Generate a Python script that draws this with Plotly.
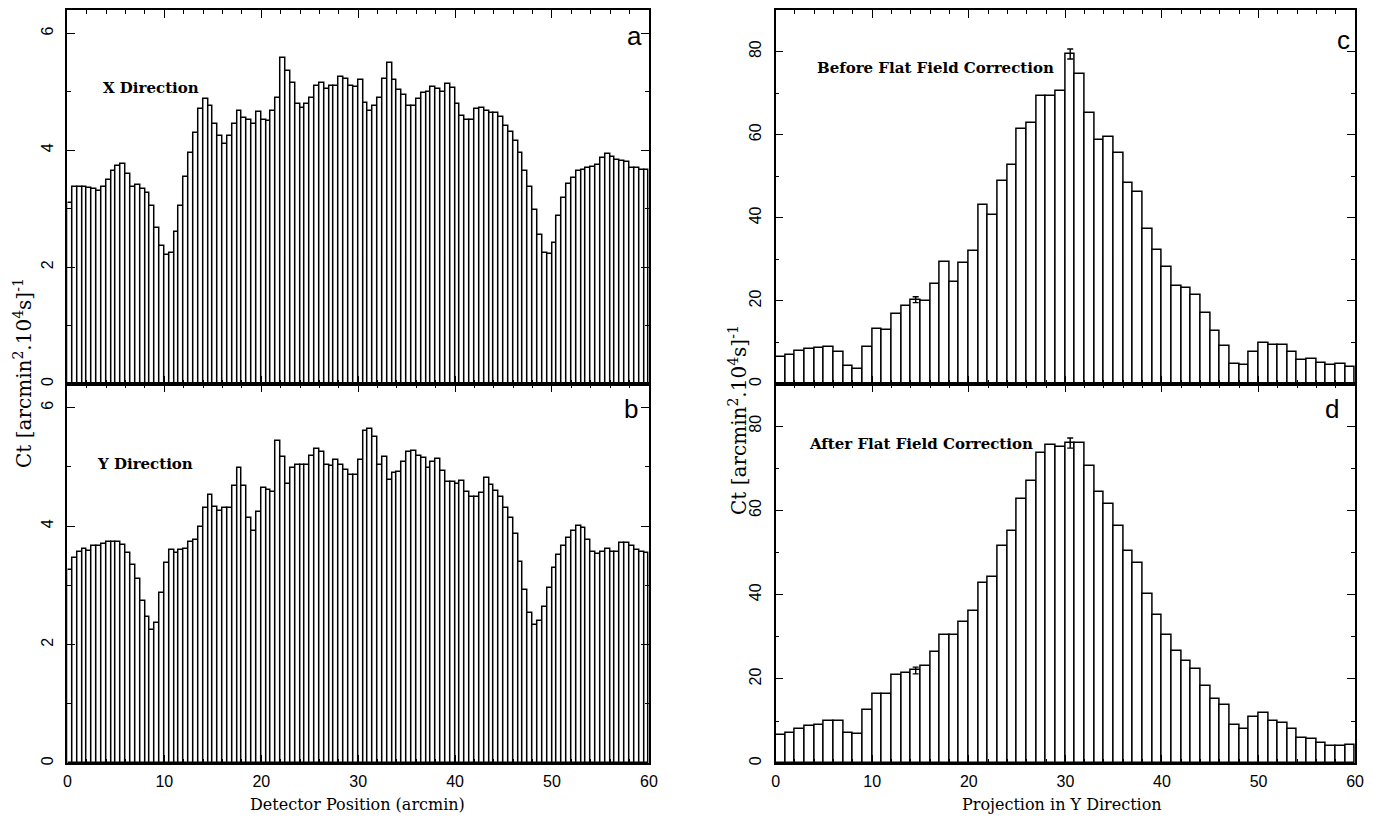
import numpy as np
import plotly.graph_objects as go

# ---------------- data ----------------
# Panel a: X direction, 0.5 arcmin bins from 0 to 60
x_direction = [3.10, 3.38, 3.38, 3.38, 3.36, 3.33, 3.30, 3.38, 3.50, 3.65,
               3.73, 3.77, 3.60, 3.38, 3.40, 3.33, 3.27, 3.05, 2.67, 2.37,
               2.20, 2.25, 2.60, 3.05, 3.55, 3.95, 4.30, 4.70, 4.87, 4.75,
               4.45, 4.25, 4.10, 4.25, 4.45, 4.68, 4.55, 4.52, 4.45, 4.65,
               4.52, 4.50, 4.68, 4.90, 5.58, 5.35, 5.15, 4.80, 4.72, 4.80,
               4.90, 5.10, 5.15, 5.05, 5.10, 5.10, 5.25, 5.22,
               5.10, 5.08, 5.20, 4.81, 4.67, 4.75, 4.90, 5.22, 5.50, 5.20,
               5.03, 4.95, 4.76, 4.76, 4.88, 4.98, 5.00, 5.08, 5.05, 5.00,
               5.13, 5.07, 4.80, 4.58, 4.51, 4.51, 4.70, 4.72, 4.67, 4.64,
               4.63, 4.57, 4.41, 4.31, 4.16, 3.96, 3.65, 3.37, 2.98, 2.55,
               2.25, 2.22, 2.42, 2.87, 3.18, 3.43, 3.52, 3.64, 3.66, 3.69,
               3.72, 3.75, 3.86, 3.93, 3.89, 3.83, 3.81, 3.80, 3.69, 3.69,
               3.66, 3.66]

# Panel b: Y direction
y_direction = [3.26, 3.46, 3.56, 3.62, 3.58, 3.66, 3.67, 3.70, 3.73, 3.74,
               3.74, 3.68, 3.54, 3.34, 3.11, 2.74, 2.46, 2.25, 2.36, 2.87,
               3.37, 3.60, 3.54, 3.60, 3.62, 3.73, 3.77, 3.98, 4.30, 4.52,
               4.33, 4.26, 4.30, 4.31, 4.67, 4.99, 4.67, 4.13, 3.92, 4.24,
               4.64, 4.61, 4.58, 5.44, 5.17, 4.72, 4.99, 5.04, 5.04, 5.03,
               5.19, 5.31, 5.25, 5.04, 5.02, 5.12, 5.04, 4.95,
               4.86, 4.86, 5.12, 5.60, 5.64, 5.51, 5.04, 5.16, 4.78, 4.89,
               4.91, 5.09, 5.25, 5.27, 5.19, 5.15, 4.99, 5.08, 5.13, 4.93,
               4.74, 4.74, 4.71, 4.76, 4.58, 4.50, 4.50, 4.56, 4.81, 4.69,
               4.60, 4.50, 4.30, 4.13, 3.86, 3.40, 2.92, 2.53, 2.33, 2.40,
               2.63, 2.96, 3.29, 3.52, 3.66, 3.80, 3.92, 4.00, 3.97, 3.77,
               3.56, 3.53, 3.57, 3.62, 3.57, 3.57, 3.71, 3.71, 3.66, 3.60,
               3.57, 3.54]

# Panel c: before flat field correction, unit bins 0..60
before_ff = [6.4, 6.9, 8.0, 8.5, 8.6, 8.9, 7.7, 4.4, 3.7, 8.9,
             13.3, 13.0, 16.9, 18.7, 20.3, 19.9, 24.1, 29.3, 24.5, 29.1,
             32.1, 43.2, 40.7, 48.8, 52.6, 61.4, 62.8, 69.4, 69.2, 70.4,
             79.4, 74.5, 65.2, 58.8, 59.5, 55.5, 48.3, 46.1, 37.3, 32.3,
             28.2, 23.7, 23.0, 21.4, 17.0, 12.8, 9.2, 4.8, 4.6, 7.7,
             10.0, 9.3, 9.3, 7.7, 5.8, 6.0, 5.0, 4.6, 4.8, 4.0]

# Panel d: after flat field correction
after_ff = [6.7, 7.1, 8.2, 8.7, 9.1, 9.9, 9.9, 7.1, 6.9, 12.5,
            16.5, 16.5, 20.8, 21.4, 22.0, 23.0, 26.4, 30.3, 30.5, 33.5,
            36.0, 42.8, 44.2, 51.6, 55.0, 62.6, 66.9, 73.5, 75.6, 75.1,
            76.0, 76.0, 70.6, 64.4, 61.6, 56.4, 50.3, 47.4, 40.2, 35.1,
            30.5, 26.5, 24.3, 22.3, 18.4, 15.2, 13.7, 9.1, 8.1, 10.9,
            11.8, 10.0, 9.4, 8.1, 6.0, 5.7, 4.8, 4.1, 4.1, 4.3]

# error bars (bin index, half-length)
before_err_bins = [14, 30]
before_err_size = [0.7, 1.2]
after_err_bins = [14, 30]
after_err_size = [0.8, 1.2]

det_bin = 0.5
proj_bin = 1.0
det_centers = np.arange(len(x_direction)) * det_bin + det_bin / 2
proj_centers = np.arange(len(before_ff)) * proj_bin + proj_bin / 2

panel_letters = ["a", "b", "c", "d"]
panel_titles = ["X Direction", "Y Direction",
                "Before Flat Field Correction", "After Flat Field Correction"]
ytitle = "Ct [arcmin<sup>2</sup>.10<sup>4</sup>s]<sup>-1</sup>"
xtitle_left = "Detector Position (arcmin)"
xtitle_right = "Projection in Y Direction"

# ---------------- figure ----------------
SW, SH = 1381, 825        # screen size
OFF = 8                   # page body margin
W, H = SW - 2 * OFF, SH - 2 * OFF


def fx(x):
    return (x - OFF) / W


def fy(y):
    return 1 - (y - OFF) / H


fig = go.Figure()

bar_style = dict(marker=dict(color="white", line=dict(color="black", width=1.5)),
                 showlegend=False, hoverinfo="x+y")

fig.add_trace(go.Bar(x=det_centers, y=x_direction, width=det_bin,
                     xaxis="x", yaxis="y", **bar_style))
fig.add_trace(go.Bar(x=det_centers, y=y_direction, width=det_bin,
                     xaxis="x2", yaxis="y2", **bar_style))
fig.add_trace(go.Bar(x=proj_centers, y=before_ff, width=proj_bin,
                     xaxis="x3", yaxis="y3", **bar_style))
fig.add_trace(go.Bar(x=proj_centers, y=after_ff, width=proj_bin,
                     xaxis="x4", yaxis="y4", **bar_style))

# error bars
for vals, bins, sizes, xa, ya in [(before_ff, before_err_bins, before_err_size, "x3", "y3"),
                                  (after_ff, after_err_bins, after_err_size, "x4", "y4")]:
    fig.add_trace(go.Scatter(
        x=[proj_centers[b] for b in bins], y=[vals[b] for b in bins],
        mode="markers", marker=dict(size=1, color="black"),
        error_y=dict(type="data", array=sizes, color="black", thickness=1.4, width=3),
        xaxis=xa, yaxis=ya, showlegend=False, hoverinfo="skip"))

L = [fx(64), fx(651)]
R = [fx(779), fx(1364)]
TOP = [fy(385), fy(10)]
BOT = [fy(765), fy(385)]

tickfont = dict(family="Liberation Sans, Arial, sans-serif", size=16, color="black")


def xax(domain, anchor, minor_dtick, show_labels):
    return dict(domain=domain, anchor=anchor, range=[0, 60], dtick=10, tick0=0,
                showline=True, linecolor="black", linewidth=1.6, mirror="allticks",
                ticks="inside", ticklen=8, tickwidth=1.3, tickcolor="black",
                minor=dict(ticks="inside", ticklen=4, tickwidth=1.1, tickcolor="black",
                           dtick=minor_dtick, tick0=0),
                showgrid=False, zeroline=False, showticklabels=show_labels,
                tickfont=tickfont, ticklabelstandoff=3)


def yax(domain, anchor, rng, dtick, minor_dtick):
    return dict(domain=domain, anchor=anchor, range=rng, dtick=dtick, tick0=0,
                showline=True, linecolor="black", linewidth=1.6, mirror="allticks",
                ticks="inside", ticklen=8, tickwidth=1.3, tickcolor="black",
                minor=dict(ticks="inside", ticklen=4, tickwidth=1.1, tickcolor="black",
                           dtick=minor_dtick, tick0=0),
                showgrid=False, zeroline=False, tickangle=-90,
                tickfont=tickfont, ticklabelstandoff=6)


fig.update_layout(
    width=W, height=H, autosize=False,
    margin=dict(l=0, r=0, t=0, b=0),
    paper_bgcolor="white", plot_bgcolor="white",
    bargap=0, barmode="overlay",
    xaxis=xax(L, "y", 2, False),
    yaxis=yax(TOP, "x", [0, 6.4], 2, 1),
    xaxis2=xax(L, "y2", 2, True),
    yaxis2=yax(BOT, "x2", [0, 6.4], 2, 1),
    xaxis3=xax(R, "y3", 2, False),
    yaxis3=yax(TOP, "x3", [0, 90], 20, 10),
    xaxis4=xax(R, "y4", 2, True),
    yaxis4=yax(BOT, "x4", [0, 90], 20, 10),
)

serif = "DejaVu Serif, Liberation Serif, serif"
ann = []


def add_text(text, x, y, font, angle=0):
    ann.append(dict(text=text, x=fx(x), y=fy(y), xref="paper", yref="paper",
                    xanchor="center", yanchor="middle", textangle=angle,
                    showarrow=False, font=font))


letter_pos = [(636, 36), (633, 410), (1352, 40), (1341, 410)]
for t, (x, y) in zip(panel_letters, letter_pos):
    add_text(t, x, y, dict(family="Liberation Sans, Arial, sans-serif", size=26, color="black"))
title_pos = [(148, 88), (142, 465), (940, 68), (926, 445)]
for t, (x, y) in zip(panel_titles, title_pos):
    add_text("<b>" + t + "</b>", x, y, dict(family=serif, size=15, color="black"))
for (x, y) in [(19, 374), (741, 421)]:
    add_text(ytitle, x, y, dict(family=serif, size=20, color="black"), angle=-90)
for t, (x, y) in [(xtitle_left, (357, 806)), (xtitle_right, (1068, 806))]:
    add_text(t, x, y, dict(family=serif, size=16, color="black"))
fig.update_layout(annotations=ann)

fig.write_html("out.html")
